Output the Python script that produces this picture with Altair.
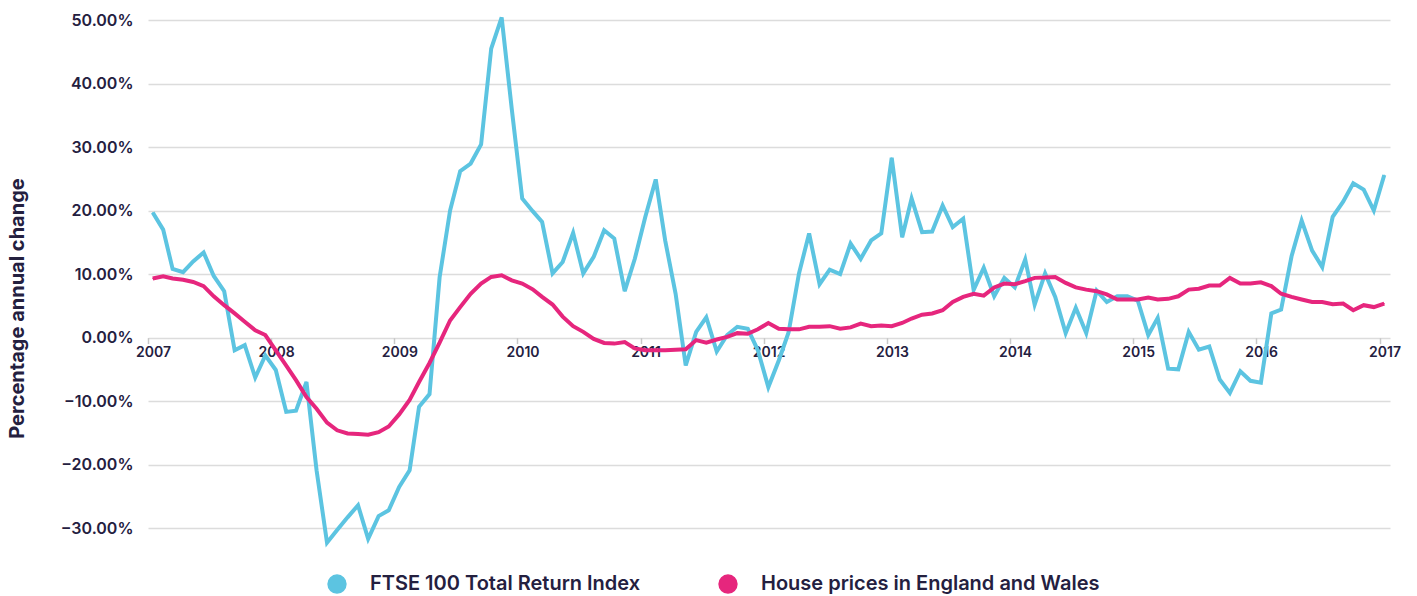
import altair as alt
import pandas as pd

ftse = [19.7, 17.0, 10.8, 10.3, 12.0, 13.4, 9.7, 7.3, -2.0, -1.2, -6.3, -2.8,
        -5.1, -11.7, -11.5, -7.0, -20.9, -32.3, -30.3, -28.3, -26.4, -31.7, -28.1, -27.2,
        -23.5, -20.9, -10.9, -8.9, 9.5, 20.0, 26.2, 27.4, 30.4, 45.5, 50.4, 36.0,
        21.9, 19.9, 18.2, 10.1, 11.9, 16.5, 10.1, 12.7, 16.9, 15.6, 7.3, 12.4,
        19.0, 24.9, 15.3, 6.9, -4.4, 0.9, 3.2, -2.2, 0.4, 1.7, 1.4, -2.0,
        -7.8, -3.6, 0.8, 10.1, 16.4, 8.4, 10.7, 10.0, 14.8, 12.4, 15.3, 16.4,
        28.3, 15.8, 21.9, 16.6, 16.7, 20.8, 17.4, 18.7, 7.5, 11.0, 6.5, 9.4,
        7.9, 12.3, 5.2, 10.1, 6.4, 0.7, 4.7, 0.7, 7.4, 5.6, 6.5, 6.5,
        5.8, 0.4, 3.1, -4.9, -5.0, 0.9, -1.9, -1.4, -6.6, -8.7, -5.3, -6.8,
        -7.1, 3.8, 4.4, 12.8, 18.4, 13.7, 11.1, 19.0, 21.4, 24.3, 23.3, 20.0,
        25.6]

house = [9.3, 9.65, 9.3, 9.1, 8.75, 8.1, 6.5, 5.1, 3.8, 2.5, 1.15, 0.4,
         -2.0, -4.4, -6.7, -9.35, -11.2, -13.4, -14.6, -15.1, -15.2, -15.3, -14.9, -14.0,
         -12.1, -9.8, -7.0, -4.0, -0.8, 2.7, 4.8, 6.9, 8.5, 9.55, 9.8, 9.0,
         8.5, 7.6, 6.4, 5.2, 3.3, 1.8, 0.9, -0.2, -0.85, -0.95, -0.7, -1.7,
         -2.0, -2.0, -2.0, -1.9, -1.85, -0.4, -0.8, -0.3, 0.1, 0.7, 0.6, 1.3,
         2.3, 1.4, 1.3, 1.3, 1.7, 1.7, 1.8, 1.4, 1.6, 2.2, 1.8, 1.9,
         1.8, 2.3, 3.0, 3.6, 3.8, 4.3, 5.6, 6.4, 6.9, 6.6, 7.9, 8.5,
         8.4, 8.9, 9.4, 9.45, 9.55, 8.6, 7.9, 7.55, 7.3, 6.8, 6.0, 6.0,
         6.0, 6.3, 6.0, 6.1, 6.5, 7.55, 7.7, 8.2, 8.2, 9.4, 8.5, 8.5,
         8.7, 8.1, 6.9, 6.4, 6.0, 5.6, 5.6, 5.25, 5.35, 4.3, 5.1, 4.8,
         5.35]

series_names = ["FTSE 100 Total Return Index", "House prices in England and Wales"]
series_colors = ["#5cc4e1", "#e6267d"]
year_ticks = list(range(2007, 2018))
y_ticks = [-30, -20, -10, 0, 10, 20, 30, 40, 50]

dates = pd.date_range("2007-01-01", periods=len(ftse), freq="MS") + pd.Timedelta(days=14)
date_str = [d.strftime("%Y-%m-%dT00:00:00") for d in dates]

df = pd.concat([
    pd.DataFrame({"date": date_str, "value": ftse, "series": series_names[0]}),
    pd.DataFrame({"date": date_str, "value": house, "series": series_names[1]}),
])

text_color = "#24203f"
axis_font = "Inter"
legend_font = "Inter"

x_enc = alt.X(
    "date:T",
    title=None,
    scale=alt.Scale(domain=[alt.DateTime(year=2007, month=1, date=1),
                            alt.DateTime(year=2017, month=2, date=1)], nice=False),
    axis=alt.Axis(
        values=[alt.DateTime(year=y, month=1, date=1) for y in year_ticks],
        format="%Y", grid=False, domain=False,
        tickColor="#c8c8c8", tickSize=6, tickWidth=1.5,
        labelPadding=2, labelOffset=5, labelFlush=False,
        labelFont=axis_font, labelFontSize=14, labelFontWeight=600, labelColor=text_color,
        offset=-206.4,
    ),
)
y_enc = alt.Y(
    "value:Q",
    scale=alt.Scale(domain=[-32.5, 50], nice=False, zero=False),
    axis=alt.Axis(
        values=y_ticks,
        labelExpr="format(datum.value, '.2f') + '%'",
        grid=True, gridColor="#dcdcdc", gridWidth=1.5,
        domain=False, ticks=False, labelPadding=15,
        labelFont=axis_font, labelFontSize=16, labelFontWeight=600, labelColor=text_color,
        title="Percentage annual change",
        titleFont=axis_font, titleFontSize=20, titleFontWeight=700, titleColor=text_color,
        titleAngle=270, titleX=-131, titleY=288, titleAlign="center", titleBaseline="middle",
    ),
)
color_enc = alt.Color(
    "series:N",
    scale=alt.Scale(domain=series_names, range=series_colors),
    legend=alt.Legend(
        title=None, orient="none", direction="horizontal",
        legendX=179, legendY=554,
        symbolType="circle", symbolSize=320,
        labelFont=legend_font, labelFontSize=20, labelFontWeight=600, labelColor=text_color,
        labelOffset=23, columnPadding=75, labelLimit=0,
    ),
)

base = alt.Chart(df).encode(x=x_enc, y=y_enc, color=color_enc)
points = base.mark_point(filled=True, size=1, opacity=1)
lines = base.mark_line(strokeWidth=4)

chart = alt.layer(points, lines).properties(
    width=1242, height=524,
    autosize=alt.AutoSizeParams(type="none"),
    padding={"left": 148, "top": 20, "right": 27, "bottom": 52},
    background="white",
).configure_view(stroke=None)

chart.save("out.html", embed_options={"renderer": "svg", "actions": False})
